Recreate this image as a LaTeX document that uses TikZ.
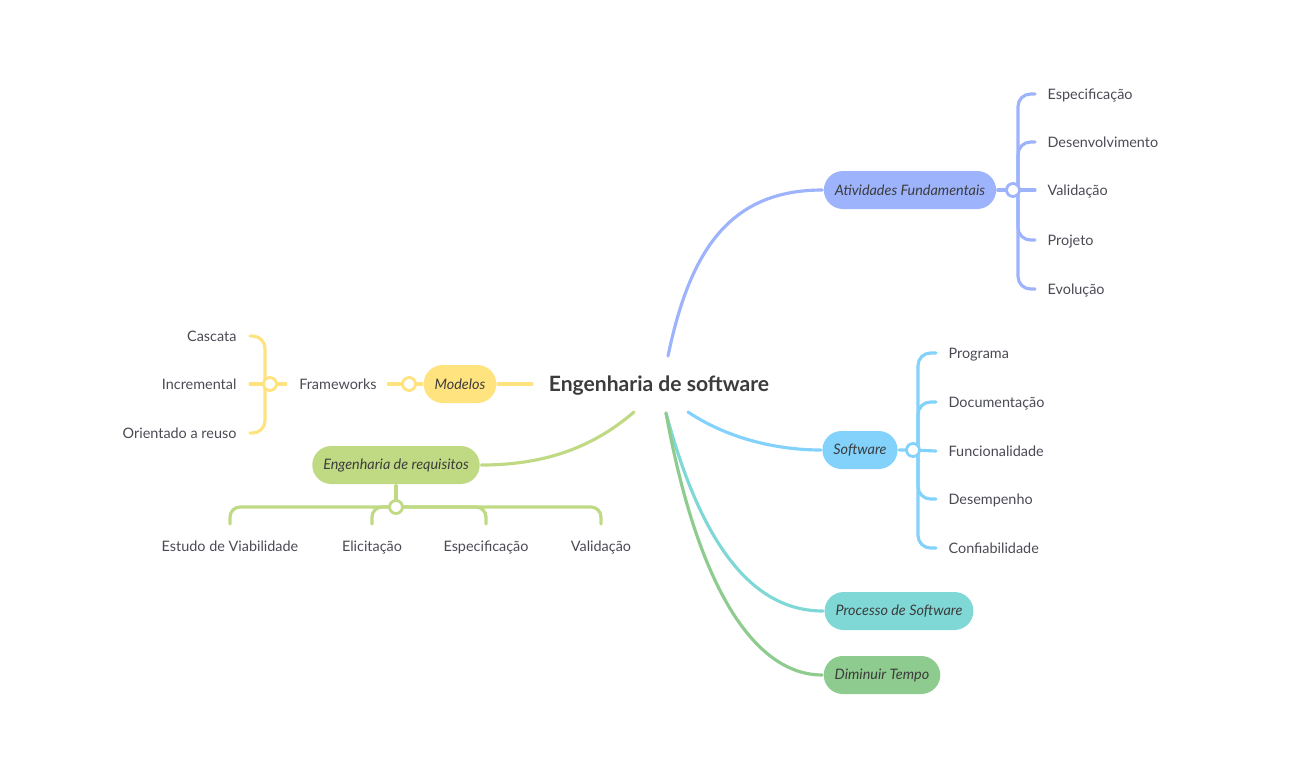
\documentclass[tikz,border=0pt]{standalone}
\usepackage{fontspec}
\setmainfont{Lato}
\usepackage{tikz}
\usetikzlibrary{positioning}
\definecolor{mapBlue}{HTML}{9DB3FB}
\definecolor{mapSky}{HTML}{82D2FC}
\definecolor{mapTeal}{HTML}{80D8D6}
\definecolor{mapGreen}{HTML}{8ECB8E}
\definecolor{mapYellow}{HTML}{FFE37E}
\definecolor{mapLime}{HTML}{C0DA84}
\definecolor{mapText}{HTML}{3C3C3C}
\definecolor{mapLeaf}{HTML}{4A4A55}

\begin{document}
\begin{tikzpicture}[x=0.02cm, y=-0.02cm, line width=1.8pt, line cap=round,
    topic/.style={rounded corners=0.38cm, minimum height=0.76cm, inner xsep=0.22cm,
        font=\itshape\fontsize{8.2}{10}\selectfont, text=mapText},
    leaf/.style={inner sep=0pt, text height=7.5pt, text depth=1.5pt,
        font=\fontsize{8.2}{10}\selectfont, text=mapLeaf},
    hub/.style={circle, fill=white, minimum size=0.26cm, inner sep=0pt, line width=1.6pt}]
    \useasboundingbox (0,0) rectangle (1314,778);

    % 中心
    \node[font=\bfseries\fontsize{12}{14}\selectfont, text=mapText] (root) at (659,386) {Engenharia de software};
    \coordinate (rN) at (668,356);
    \coordinate (rSE) at (688,412);
    \coordinate (rS) at (666,413);
    \coordinate (rSW) at (634,412);
    \coordinate (rW) at (532,384);

    % 主題ノード
    \node[topic, fill=mapBlue] (AF) at (910,190) {Atividades Fundamentais};
    \node[topic, fill=mapSky] (SW) at (860,450) {Software};
    \node[topic, fill=mapTeal] (PS) at (899,611) {Processo de Software};
    \node[topic, fill=mapGreen] (DT) at (882,675) {Diminuir Tempo};
    \node[topic, fill=mapYellow] (MO) at (460,384) {Modelos};
    \node[topic, fill=mapLime] (ER) at (396,465) {Engenharia de requisitos};

    % 中心からの枝
    \draw[mapBlue] (rN) .. controls (690,250) and (730,190) .. (AF.west);
    \draw[mapSky] (rSE) .. controls (730,440) and (780,450) .. (SW.west);
    \draw[mapTeal] (rS) .. controls (700,540) and (750,611) .. (PS.west);
    \draw[mapGreen] (rS) .. controls (700,600) and (760,675) .. (DT.west);
    \draw[mapLime] (rSW) .. controls (590,450) and (540,465) .. (ER.east);
    \draw[mapYellow] (rW) -- (MO.east);

    % 分岐点
    \coordinate (hAF) at (1013,190);
    \coordinate (hSW) at (913,450);
    \coordinate (hMO) at (409,384);
    \coordinate (hFW) at (270,384);
    \coordinate (hER) at (396,507);

    % 葉 (Atividades Fundamentais)
    \foreach \y/\t/\n in {94/Especificação/a1, 142/Desenvolvimento/a2, 190/Validação/a3,
        240/Projeto/a4, 289/Evolução/a5}
        \node[leaf, anchor=west] (\n) at (1046,\y) {\t};
    \draw[mapBlue] (AF.east) -- (hAF) -- ([xshift=-0.22cm]a3.west);
    \foreach \n in {a1, a2, a4, a5}
        \draw[mapBlue, rounded corners=0.25cm] (1018,190) |- ([xshift=-0.22cm]\n.west);

    % 葉 (Software)
    \foreach \y/\t/\n in {353/Programa/s1, 402/Documentação/s2, 451/Funcionalidade/s3,
        499/Desempenho/s4, 548/Confiabilidade/s5}
        \node[leaf, anchor=west] (\n) at (947,\y) {\t};
    \draw[mapSky] (SW.east) -- (hSW) -- ([xshift=-0.22cm]s3.west);
    \foreach \n in {s1, s2, s4, s5}
        \draw[mapSky, rounded corners=0.25cm] (918,450) |- ([xshift=-0.22cm]\n.west);

    % 葉 (Modelos)
    \node[leaf] (FW) at (338,384) {Frameworks};
    \draw[mapYellow] (MO.west) -- ([xshift=0.2cm]FW.east);
    \foreach \y/\t/\n in {336/Cascata/m1, 384/Incremental/m2, 433/Orientado a reuso/m3}
        \node[leaf, anchor=east] (\n) at (238,\y) {\t};
    \draw[mapYellow] ([xshift=-0.24cm]FW.west) -- (hFW) -- ([xshift=0.24cm]m2.east);
    \foreach \n in {m1, m3}
        \draw[mapYellow, rounded corners=0.25cm] (265,384) |- ([xshift=0.24cm]\n.east);

    % 葉 (Engenharia de requisitos)
    \foreach \x/\t/\n in {230/Estudo de Viabilidade/e1, 372/Elicitação/e2,
        486/Especificação/e3, 601/Validação/e4}
        \node[leaf] (\n) at (\x,546) {\t};
    \draw[mapLime] (ER.south) -- (hER);
    \draw[mapLime, rounded corners=0.2cm] ([yshift=0.25cm]e1.north) |- (hER) -| ([yshift=0.25cm]e4.north);
    \foreach \n in {e2, e3}
        \draw[mapLime, rounded corners=0.2cm] (hER) -| ([yshift=0.25cm]\n.north);

    % 分岐点の丸
    \node[hub, draw=mapBlue] (cAF) at (hAF) {};
    \node[hub, draw=mapSky] (cSW) at (hSW) {};
    \node[hub, draw=mapYellow] (cMO) at (hMO) {};
    \node[hub, draw=mapYellow] (cFW) at (hFW) {};
    \node[hub, draw=mapLime] (cER) at (hER) {};
\end{tikzpicture}
\end{document}
